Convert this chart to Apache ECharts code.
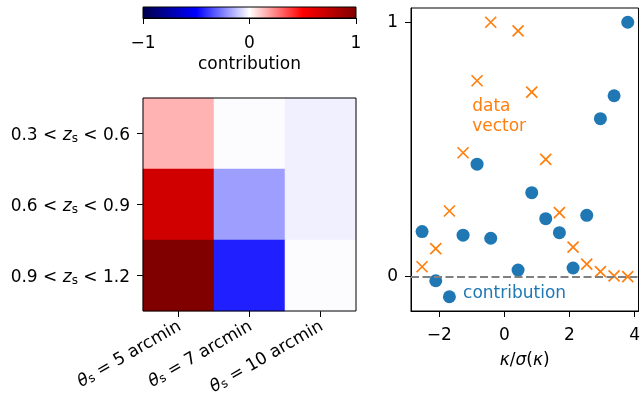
<!DOCTYPE html>
<html><head><meta charset="utf-8">
<script src="https://cdn.jsdelivr.net/npm/echarts@6/dist/echarts.min.js"></script>
<style>html,body{margin:0;padding:0;background:#fff}#c{width:643px;height:400px}</style>
</head><body><div id="c"></div>
<script>
// ---- data ----
const zBins = ['0.3 < z_s < 0.6', '0.6 < z_s < 0.9', '0.9 < z_s < 1.2'];
const zLow = ['0.3', '0.6', '0.9'];
const zHigh = ['0.6', '0.9', '1.2'];
const thetaBins = ['5', '7', '10'];
// rows = z bins (top to bottom), cols = theta bins
const heatValues = [
  [0.15, -0.006, -0.03],
  [0.68, -0.19, -0.03],
  [1.0, -0.44, -0.006]
];
const kappaX = [-2.53, -2.11, -1.69, -1.27, -0.84, -0.42, 0.42, 0.84, 1.27, 1.69, 2.11, 2.53, 2.95, 3.37, 3.79];
const contribution = [0.177, -0.016, -0.079, 0.163, 0.442, 0.151, 0.026, 0.330, 0.228, 0.173, 0.034, 0.241, 0.621, 0.711, 1.0];
const dataVector = [0.039, 0.110, 0.258, 0.487, 0.770, 1.0, 0.966, 0.725, 0.461, 0.252, 0.116, 0.049, 0.020, 0.003, 0.0];
const xTicks = [-2, 0, 2, 4];
const yTicks = [0, 1];
const cbTicks = [-1, 0, 1];
const seismic = ['#00004c', '#0000ff', '#ffffff', '#ff0000', '#800000'];

// ---- chart ----
const FONT = 'DejaVu Sans';
const FS = 17;
const minus = v => String(v).replace('-', '\u2212');
const heatData = [];
heatValues.forEach((row, r) => row.forEach((v, c) => heatData.push([c, r, v])));
const rich = {
  n: {fontSize: FS, fontFamily: FONT, color: '#000', lineHeight: 22, verticalAlign: 'bottom'},
  i: {fontSize: FS, fontFamily: FONT, fontStyle: 'italic', color: '#000', lineHeight: 22, verticalAlign: 'bottom'},
  s: {fontSize: 12, fontFamily: FONT, color: '#000', lineHeight: 12, verticalAlign: 'bottom'}
};
const tickStyle = {show: true, length: 6, lineStyle: {color: '#000', width: 1}};
const axisLineStyle = {show: true, onZero: false, lineStyle: {color: '#000', width: 1}};

const chart = echarts.init(document.getElementById('c'), null, {renderer: 'canvas'});
chart.setOption({
  animation: false,
  textStyle: {fontFamily: FONT},
  visualMap: {show: false, min: -1, max: 1, seriesIndex: 0, inRange: {color: seismic}},
  grid: [
    {left: 143, top: 98, width: 213, height: 213, show: true, borderColor: '#000', borderWidth: 1, backgroundColor: 'transparent', z: 5},
    {left: 411, top: 8, width: 230, height: 303, show: true, borderColor: '#000', borderWidth: 1, backgroundColor: 'transparent'},
    {left: 143, top: 7, width: 213, height: 11, show: true, borderColor: '#000', borderWidth: 1, backgroundColor: 'transparent', z: 5}
  ],
  xAxis: [
    {type: 'category', gridIndex: 0, data: thetaBins, axisLine: {show: false},
     axisTick: Object.assign({alignWithLabel: true}, tickStyle),
     axisLabel: {rotate: 30, margin: 12, rich: rich,
       formatter: v => '{i|θ}{s|s}{n| = ' + v + ' arcmin}'},
     splitLine: {show: false}},
    {type: 'value', gridIndex: 1, min: -2.87, max: 4.12, axisLine: axisLineStyle,
     axisTick: Object.assign({customValues: xTicks}, tickStyle),
     axisLabel: {customValues: xTicks, formatter: minus, fontSize: FS, color: '#000', margin: 16},
     splitLine: {show: false},
     name: '{i|κ}{n|/}{i|σ}{n|(}{i|κ}{n|)}', nameLocation: 'middle', nameGap: 36,
     nameTextStyle: {rich: rich}},
    {type: 'value', gridIndex: 2, min: -1, max: 1, axisLine: axisLineStyle,
     axisTick: Object.assign({customValues: cbTicks}, tickStyle),
     axisLabel: {customValues: cbTicks, formatter: minus, fontSize: FS, color: '#000', margin: 17},
     splitLine: {show: false},
     name: 'contribution', nameLocation: 'middle', nameGap: 38,
     nameTextStyle: {fontSize: FS, color: '#000'}}
  ],
  yAxis: [
    {type: 'category', gridIndex: 0, data: zBins, inverse: true, axisLine: {show: false},
     axisTick: Object.assign({alignWithLabel: true}, tickStyle),
     axisLabel: {margin: 13, rich: rich,
       formatter: (v, idx) => '{n|' + zLow[idx] + ' < }{i|z}{s|s}{n| < ' + zHigh[idx] + '}'},
     splitLine: {show: false}},
    {type: 'value', gridIndex: 1, min: -0.135, max: 1.056, axisLine: axisLineStyle,
     axisTick: Object.assign({customValues: yTicks}, tickStyle),
     axisLabel: {customValues: yTicks, formatter: minus, fontSize: FS, color: '#000', margin: 13,
       padding: [5, 0, 0, 0]},
     splitLine: {show: false}},
    {type: 'value', gridIndex: 2, min: 0, max: 1, show: false}
  ],
  series: [
    {type: 'heatmap', xAxisIndex: 0, yAxisIndex: 0, data: heatData,
     itemStyle: {borderWidth: 0}, emphasis: {disabled: true}, silent: true},
    {type: 'custom', xAxisIndex: 2, yAxisIndex: 2, data: [[0, 0]], silent: true,
     renderItem: (params, api) => {
       const p0 = api.coord([-1, 1]);
       const p1 = api.coord([1, 0]);
       return {type: 'rect', shape: {x: p0[0], y: p0[1], width: p1[0] - p0[0], height: p1[1] - p0[1]},
         style: {fill: new echarts.graphic.LinearGradient(0, 0, 1, 0,
           seismic.map((c, i) => ({offset: i / (seismic.length - 1), color: c})))}};
     }},
    {type: 'scatter', xAxisIndex: 1, yAxisIndex: 1, name: 'contribution',
     data: kappaX.map((x, i) => [x, contribution[i]]),
     symbol: 'circle', symbolSize: 13, itemStyle: {color: '#1f77b4', opacity: 1},
     z: 3,
     markLine: {symbol: 'none', silent: true, label: {show: false},
       lineStyle: {type: [8, 3.5], color: '#808080', width: 2.2},
       data: [{yAxis: 0}]},
     markPoint: {silent: true, data: [{coord: [-1.27, -0.068], symbol: 'circle', symbolSize: 0,
       label: {show: true, position: 'right', distance: 0, formatter: 'contribution',
         color: '#1f77b4', fontSize: FS, fontFamily: FONT}}]}},
    {type: 'scatter', xAxisIndex: 1, yAxisIndex: 1, name: 'data vector',
     data: kappaX.map((x, i) => [x, dataVector[i]]),
     symbol: 'path://M0,0L10,10M10,0L0,10', symbolSize: 11,
     itemStyle: {color: 'rgba(0,0,0,0)', borderColor: '#ff7f0e', borderWidth: 1.7, opacity: 1},
     z: 4,
     markPoint: {silent: true, data: [{coord: [-0.99, 0.628], symbol: 'circle', symbolSize: 0,
       label: {show: true, position: 'right', distance: 0, formatter: 'data\nvector',
         color: '#ff7f0e', fontSize: FS, fontFamily: FONT, lineHeight: 20, align: 'left'}}]}}
  ]
});
</script>
</body></html>
